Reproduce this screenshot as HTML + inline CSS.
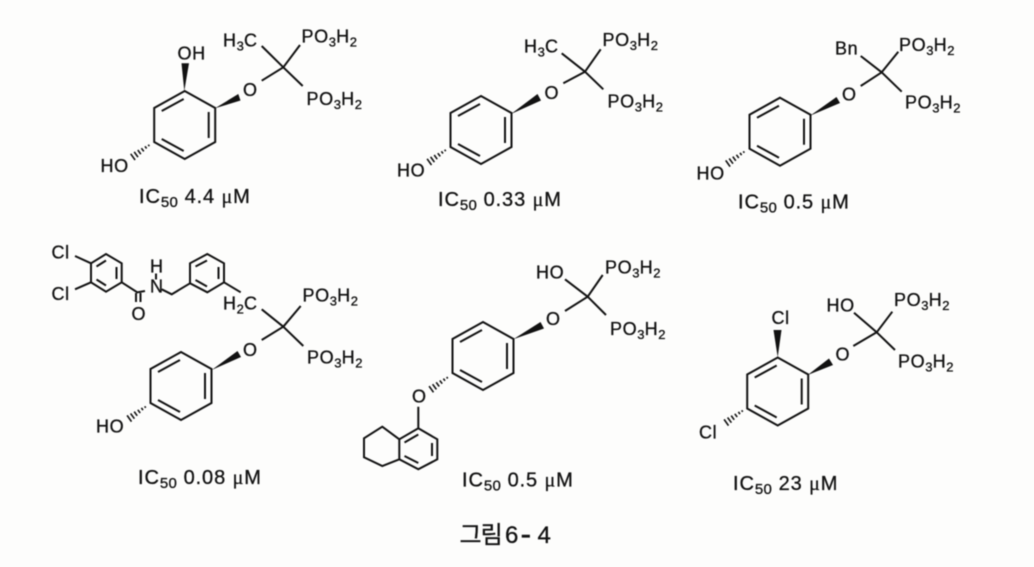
<!DOCTYPE html>
<html><head><meta charset="utf-8"><style>
html,body{margin:0;padding:0;background:#fdfdfc}
svg{display:block}
text{font-family:"Liberation Sans","Noto Sans CJK KR",sans-serif;font-size:18px;fill:#111;stroke:#111;stroke-width:.3px;letter-spacing:.6px}
text.ic{font-size:20px;letter-spacing:.9px}
text.ic tspan.s{font-size:15px;letter-spacing:.3px}
tspan.s{font-size:13px;letter-spacing:.2px}
tspan.m{font-family:"Liberation Serif",serif}
.b{stroke:#111;stroke-width:2;fill:none;stroke-linejoin:miter}
.h{stroke:#111;stroke-width:1.6;fill:none}
</style></head><body>
<svg width="1034" height="567" viewBox="0 0 1034 567" xmlns="http://www.w3.org/2000/svg">
<defs>
<path id="ring" class="b" d="M0-34L30.500-17V17L0 34L-30.500 17V-17ZM-23-14L-1-26M24-13V13M-23 14L-1 26"/>
<path id="hash" class="h" d="M-6 3L-5 4.500M-9.300 4.600L-7.700 6.800M-12.900 6.500L-10.500 9.700M-16.500 8.300L-13.500 12.500M-20.100 10.200L-16.300 15.400M-23.600 12.100L-19.200 18.300"/>
</defs>
<rect width="1034" height="567" fill="#fdfdfc"/>
<g style="filter:blur(.4px)">

<!-- Molecule 1 -->
<use href="#ring" x="184.700" y="125"/>
<path class="b" d="M283.300 67.300L300 45M283.300 67.300L302.700 86M283.300 67.300L261.700 46M283.300 67.300L261.700 80.700"/>
<polygon points="215,108.300 238.300,94 240.500,100.500" fill="#111"/>
<polygon points="184.300,91 181.500,63.300 189,63.300" fill="#111"/>
<use href="#hash" x="154.300" y="141.700"/>
<text x="301.500" y="42.500">PO<tspan class="s" dy="4">3</tspan><tspan dy="-4">H</tspan><tspan class="s" dy="4">2</tspan></text>
<text x="306.500" y="105">PO<tspan class="s" dy="4">3</tspan><tspan dy="-4">H</tspan><tspan class="s" dy="4">2</tspan></text>
<text x="223" y="46.500">H<tspan class="s" dy="4">3</tspan><tspan dy="-4">C</tspan></text>
<text x="243" y="96">O</text>
<text x="177.500" y="59.500">OH</text>
<text x="100.500" y="172">HO</text>
<text class="ic" x="139" y="203">IC<tspan class="s" dy="4">50</tspan><tspan dy="-4"> 4.4 </tspan><tspan class="m">μ</tspan>M</text>

<!-- Molecule 2 -->
<use href="#ring" x="481" y="130"/>
<path class="b" d="M585 71.700L600.700 49.300M585 71.700L603.300 89.300M585 71.700L561.700 53.300M585 71.700L563.300 83.300"/>
<polygon points="511,114 537.500,94 541,100.500" fill="#111"/>
<use href="#hash" x="450.700" y="146.700"/>
<text x="602.500" y="46">PO<tspan class="s" dy="4">3</tspan><tspan dy="-4">H</tspan><tspan class="s" dy="4">2</tspan></text>
<text x="607.500" y="107.500">PO<tspan class="s" dy="4">3</tspan><tspan dy="-4">H</tspan><tspan class="s" dy="4">2</tspan></text>
<text x="524" y="52.500">H<tspan class="s" dy="4">3</tspan><tspan dy="-4">C</tspan></text>
<text x="544.500" y="99">O</text>
<text x="397" y="176.500">HO</text>
<text class="ic" x="438" y="206">IC<tspan class="s" dy="4">50</tspan><tspan dy="-4"> 0.33 </tspan><tspan class="m">μ</tspan>M</text>

<!-- Molecule 3 -->
<use href="#ring" x="780" y="131.700"/>
<path class="b" d="M881.700 72.300L898.300 51.700M881.700 72.300L901.700 91.700M881.700 72.300L860.700 56M881.700 72.300L860.700 86"/>
<polygon points="810,115.700 836.500,97 840,103" fill="#111"/>
<use href="#hash" x="749.300" y="148.300"/>
<text x="899" y="51">PO<tspan class="s" dy="4">3</tspan><tspan dy="-4">H</tspan><tspan class="s" dy="4">2</tspan></text>
<text x="905" y="108.500">PO<tspan class="s" dy="4">3</tspan><tspan dy="-4">H</tspan><tspan class="s" dy="4">2</tspan></text>
<text x="835" y="54.500">Bn</text>
<text x="842" y="100.500">O</text>
<text x="696.500" y="179.500">HO</text>
<text class="ic" x="738" y="208.500">IC<tspan class="s" dy="4">50</tspan><tspan dy="-4"> 0.5 </tspan><tspan class="m">μ</tspan>M</text>

<!-- Molecule 4 -->
<use href="#ring" x="181" y="386"/>
<path class="b" d="M283.300 326.700L300.700 306M283.300 326.700L303.300 346M283.300 326.700L261.700 309.300M283.300 326.700L261.700 340"/>
<polygon points="211.700,370 237.500,351 241,357" fill="#111"/>
<use href="#hash" x="150.700" y="403.300"/>
<text x="302.500" y="301.500">PO<tspan class="s" dy="4">3</tspan><tspan dy="-4">H</tspan><tspan class="s" dy="4">2</tspan></text>
<text x="307" y="363.500">PO<tspan class="s" dy="4">3</tspan><tspan dy="-4">H</tspan><tspan class="s" dy="4">2</tspan></text>
<text x="223" y="309.500">H<tspan class="s" dy="4">2</tspan><tspan dy="-4">C</tspan></text>
<text x="243" y="356">O</text>
<text x="96" y="432.500">HO</text>
<text class="ic" x="138" y="484">IC<tspan class="s" dy="4">50</tspan><tspan dy="-4"> 0.08 </tspan><tspan class="m">μ</tspan>M</text>
<path class="b" d="M91 263.300L106 254L121.700 263.300V282.300L106 291.700L91 282.300ZM96.500 266.500L106 260.500M116.500 267V279M96.500 279.500L106 285.500"/>
<path class="b" d="M75 256L91 263.300M75 289.300L91 282.300M121.700 282.300L137.300 292.300L145 291M136 293V302M140.500 293V302M156 273.500V279.500M161.700 289.300L171.700 294.300L190 283.300"/>
<path class="b" d="M190 283.300V263.300L207.300 254L224 263.300V282.300L207.300 292.300ZM195.500 266.500L207 260.500M218.500 267V279M195.500 280L207 286.500M224 282.300L240.700 292.300"/>
<text x="51.500" y="258.500">Cl</text>
<text x="51.500" y="300">Cl</text>
<text x="150" y="292.500">N</text>
<text x="150" y="272.500">H</text>
<text x="131.500" y="320">O</text>

<!-- Molecule 5 -->
<use href="#ring" x="483" y="356"/>
<path class="b" d="M587.700 296.700L602.700 275M587.700 296.700L606 315M587.700 296.700L565 279.300M587.700 296.700L565 311"/>
<polygon points="513.300,339.300 540.500,322 544,328.500" fill="#111"/>
<use href="#hash" x="452.700" y="374"/>
<path class="b" d="M418.300 406.700V428.300M418.300 428.300L437.300 439.300V459.300L418.300 469.300L399.300 459.300V439.300ZM418.300 434.500L404.500 442.500M432 443V456M418.300 463L404.500 456M399.300 439.300L382.300 426.700L364 438.300V457.300L382.300 466L399.300 459.300"/>
<text x="605" y="273.500">PO<tspan class="s" dy="4">3</tspan><tspan dy="-4">H</tspan><tspan class="s" dy="4">2</tspan></text>
<text x="610" y="335">PO<tspan class="s" dy="4">3</tspan><tspan dy="-4">H</tspan><tspan class="s" dy="4">2</tspan></text>
<text x="536" y="278.500">HO</text>
<text x="546" y="325">O</text>
<text x="412" y="402.500">O</text>
<text class="ic" x="462" y="486.500">IC<tspan class="s" dy="4">50</tspan><tspan dy="-4"> 0.5 </tspan><tspan class="m">μ</tspan>M</text>

<!-- Molecule 6 -->
<use href="#ring" x="777.700" y="391.500"/>
<path class="b" d="M876.700 332.300L892.300 311.700M876.700 332.300L895 350M876.700 332.300L854 312.700M876.700 332.300L853.300 346"/>
<polygon points="807.700,375 829,358.500 833,365" fill="#111"/>
<polygon points="777.700,357.300 773.500,330 781.500,330" fill="#111"/>
<use href="#hash" x="747.700" y="407.300"/>
<text x="894" y="306">PO<tspan class="s" dy="4">3</tspan><tspan dy="-4">H</tspan><tspan class="s" dy="4">2</tspan></text>
<text x="898" y="367.500">PO<tspan class="s" dy="4">3</tspan><tspan dy="-4">H</tspan><tspan class="s" dy="4">2</tspan></text>
<text x="826.500" y="311.500">HO</text>
<text x="835.500" y="360.500">O</text>
<text x="771.500" y="324">Cl</text>
<text x="699" y="438.500">Cl</text>
<text class="ic" x="733" y="490">IC<tspan class="s" dy="4">50</tspan><tspan dy="-4"> 23 </tspan><tspan class="m">μ</tspan>M</text>

<!-- Caption -->
<text y="543" style="font-size:24px;letter-spacing:-1px"><tspan x="459.500">그림</tspan><tspan x="505">6</tspan><tspan x="520.500" y="545" style="font-size:32px">-</tspan><tspan x="537.500" y="543">4</tspan></text>
</g>
</svg>
</body></html>
